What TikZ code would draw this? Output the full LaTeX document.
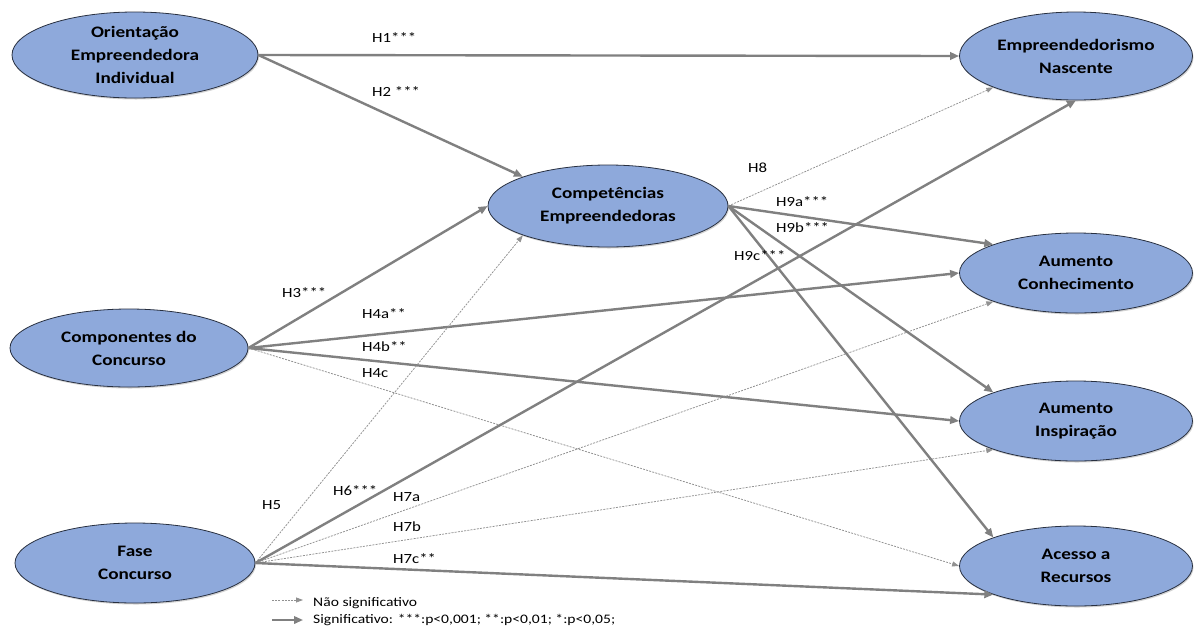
\documentclass[tikz,border=0pt]{standalone}
\usepackage{fontspec}
\setmainfont{Carlito}[FakeStretch=1.2]
\usetikzlibrary{arrows.meta,shadows,shapes.geometric}
\definecolor{nodefill}{RGB}{142,169,219}
\definecolor{nodeborder}{RGB}{40,48,64}
\definecolor{arr}{RGB}{128,128,128}
\definecolor{darr}{RGB}{145,145,145}
\tikzset{
  var/.style={ellipse, draw=nodeborder, line width=0.8pt, fill=nodefill, inner sep=0pt,
    minimum width=236pt, minimum height=80pt, align=center,
    font=\fontsize{16}{23}\selectfont\bfseries, text=black,
    drop shadow={shadow xshift=1pt, shadow yshift=-1.5pt, opacity=0.35}},
  sig/.style={draw=arr, line width=2.4pt, -{Triangle[length=9pt,width=7.5pt]}},
  nsig/.style={draw=darr, line width=0.75pt, dash pattern=on 2pt off 1.2pt, -{Triangle[length=7pt,width=5pt]}},
  lab/.style={anchor=west, inner sep=0pt, font=\fontsize{14}{16}\selectfont, text=black},
  leg/.style={anchor=west, inner sep=0pt, font=\fontsize{13}{15}\selectfont, text=black}
}
\begin{document}
\begin{tikzpicture}[x=1pt,y=-1pt]
\useasboundingbox[fill=white] (0,0) rectangle (1194,630);
\node[var, minimum width=246pt, minimum height=86pt] (OEI) at (135,55) {Orientação\\Empreendedora\\Individual};
\node[var, minimum width=240pt, minimum height=82pt] (CE) at (608,206) {Competências\\Empreendedoras};
\node[var, minimum width=238pt, minimum height=78pt] (CC) at (129,348) {Componentes do\\Concurso};
\node[var, minimum width=240pt, minimum height=80pt] (FC) at (135,563) {Fase\\Concurso};
\node[var, minimum width=233pt, minimum height=88pt] (EN) at (1076,56) {Empreendedorismo\\Nascente};
\node[var, minimum width=233pt, minimum height=80pt] (AC) at (1076,273) {Aumento\\Conhecimento};
\node[var, minimum width=233pt, minimum height=80pt] (AI) at (1076,421) {Aumento\\Inspiração};
\node[var, minimum width=233pt, minimum height=80pt] (AR) at (1076,566) {Acesso a\\Recursos};

% OEI
\draw[sig] (OEI.east) -- (EN.west);
\draw[sig] (OEI.east) -- (CE.north west);
% CC
\draw[sig] (CC.east) -- (CE.west);
\draw[sig] (CC.east) -- (AC.west);
\draw[sig] (CC.east) -- (AI.west);
\draw[nsig] (CC.east) -- (AR.west);
% FC
\draw[nsig] (FC.east) -- (CE.south west);
\draw[sig] (FC.east) -- (EN.south);
\draw[nsig] (FC.east) -- (AC.south west);
\draw[nsig] (FC.east) -- (AI.south west);
\draw[sig] (FC.east) -- (AR.south west);
% CE
\draw[nsig] (CE.east) -- (EN.south west);
\draw[sig] (CE.east) -- (AC.north west);
\draw[sig] (CE.east) -- (AI.north west);
\draw[sig] (CE.east) -- (AR.north west);

% labels
\node[lab] (l1) at (372,38) {H1***};
\node[lab] (l2) at (372,92) {H2 ***};
\node[lab] (l3) at (282,293) {H3***};
\node[lab] (l4a) at (362,314) {H4a**};
\node[lab] (l4b) at (362,347) {H4b**};
\node[lab] (l4c) at (362,373) {H4c};
\node[lab] (l5) at (262,505) {H5};
\node[lab] (l6) at (333,491) {H6***};
\node[lab] (l7a) at (393,497) {H7a};
\node[lab] (l7b) at (393,527) {H7b};
\node[lab] (l7c) at (393,559) {H7c**};
\node[lab] (l8) at (748,168) {H8};
\node[lab] (l9a) at (776,202) {H9a***};
\node[lab] (l9b) at (776,228) {H9b***};
\node[lab] (l9c) at (734,256) {H9c***};

% legend
\coordinate (ln1) at (272,600);
\coordinate (ln2) at (303,600);
\coordinate (ls1) at (272,620);
\coordinate (ls2) at (303,620);
\draw[nsig] (ln1) -- (ln2);
\draw[sig, line width=2pt] (ls1) -- (ls2);
\node[leg] (tn) at (313,603) {Não significativo};
\node[leg] (ts) at (313,620) {Significativo: ***:p<0,001; **:p<0,01; *:p<0,05;};
\end{tikzpicture}
\end{document}
